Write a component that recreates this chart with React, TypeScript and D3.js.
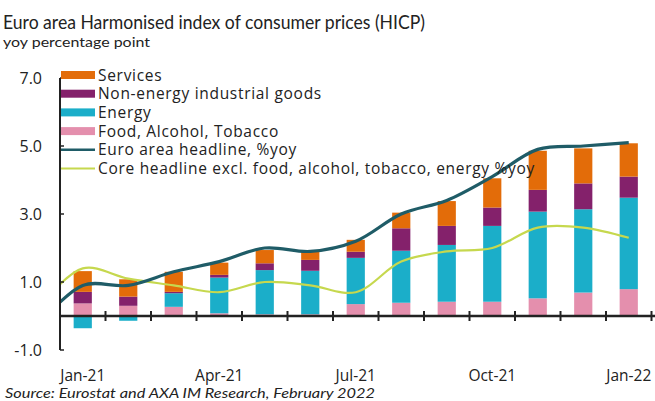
import React from "react";
import * as d3 from "d3";

const months = ["Jan-21","Feb-21","Mar-21","Apr-21","May-21","Jun-21","Jul-21","Aug-21","Sep-21","Oct-21","Nov-21","Dec-21","Jan-22"];
const tickLabels = ["Jan-21","Apr-21","Jul-21","Oct-21","Jan-22"];
const food = [0.37,0.30,0.27,0.08,0.05,0.05,0.35,0.39,0.42,0.42,0.52,0.69,0.79];
const energy = [-0.36,-0.14,0.40,1.05,1.30,1.28,1.36,1.53,1.67,2.23,2.55,2.45,2.69];
const neig = [0.34,0.27,0.04,0.08,0.20,0.32,0.18,0.66,0.56,0.54,0.64,0.76,0.62];
const services = [0.61,0.51,0.59,0.36,0.39,0.24,0.35,0.46,0.73,0.86,1.15,1.03,0.98];
// line series include Dec-20 as first point (clipped at the axis)
const lineMonths = ["Dec-20", ...months];
const headline = [-0.3,0.9,0.9,1.3,1.6,2.0,1.9,2.2,3.0,3.4,4.1,4.9,5.0,5.1];
const core = [0.2,1.4,1.1,0.9,0.7,1.0,0.9,0.7,1.6,1.9,2.0,2.6,2.6,2.3];
const yTicks = [-1,1,3,5,7];

const colors = { services: "#E36C09", neig: "#84216B", energy: "#1BAEC9", food: "#E48FAD", headline: "#1F5C67", core: "#C6D84E" };

const W = 655, H = 401;
const FONT = "Lato, 'Open Sans', sans-serif";
const FONT2 = "'Open Sans', Lato, sans-serif";

export default function App() {
  const x = d3.scaleBand<string>().domain(months).range([60, 651.5]).paddingInner(0.6).paddingOuter(0.3);
  const step = x.step();
  const cx = (m: string) => (m === "Dec-20") ? (x("Jan-21")! + x.bandwidth() / 2 - step) : x(m)! + x.bandwidth() / 2;
  const y = d3.scaleLinear().domain([-1, 7]).range([350, 78]);

  const stacks = months.map((m, i) => {
    const segs: { v0: number; v1: number; c: string }[] = [];
    let pos = 0, neg = 0;
    const add = (v: number, c: string) => {
      if (v >= 0) { segs.push({ v0: pos, v1: pos + v, c }); pos += v; }
      else { segs.push({ v0: neg + v, v1: neg, c }); neg += v; }
    };
    add(food[i], colors.food);
    add(energy[i], colors.energy);
    add(neig[i], colors.neig);
    add(services[i], colors.services);
    return { m, segs };
  });

  const lineGen = d3.line<number>()
    .x((_, i) => cx(lineMonths[i]))
    .y(d => y(d))
    .curve(d3.curveCatmullRom.alpha(0.5));

  const xTickPos = d3.range(0, months.length + 1).map(k => 60 + k * step);

  const legend = [
    { label: "Services", c: colors.services, type: "rect" },
    { label: "Non-energy industrial goods", c: colors.neig, type: "rect" },
    { label: "Energy", c: colors.energy, type: "rect" },
    { label: "Food, Alcohol, Tobacco", c: colors.food, type: "rect" },
    { label: "Euro area headline, %yoy", c: colors.headline, type: "line" },
    { label: "Core headline excl. food, alcohol, tobacco, energy %yoy", c: colors.core, type: "line" },
  ];

  return (
    <svg width={W} height={H} style={{ position: "absolute", left: 0, top: 0, background: "#fff" }} fontFamily={FONT}>
      <defs>
        <clipPath id="plotclip"><rect x={60} y={0} width={600} height={H} /></clipPath>
      </defs>
      <rect width={W} height={H} fill="#fff" />
      <text x={3} y={29} fontSize={20} fill="#222" textLength={422} lengthAdjust="spacingAndGlyphs">Euro area Harmonised index of consumer prices (HICP)</text>
      <text x={3} y={47} fontSize={14} fill="#222" textLength={147} lengthAdjust="spacingAndGlyphs">yoy percentage  point</text>

      {yTicks.map(t => (
        <text key={t} x={42} y={y(t) + 6} fontSize={16} fontFamily={FONT2} textAnchor="end" fill="#222">{t.toFixed(1)}</text>
      ))}

      {stacks.map(s => s.segs.map((g, j) => (
        <rect key={s.m + j} x={x(s.m)} width={x.bandwidth()} y={y(g.v1)} height={Math.max(0, y(g.v0) - y(g.v1))} fill={g.c} />
      )))}

      <g clipPath="url(#plotclip)">
        <path d={lineGen(core)!} fill="none" stroke={colors.core} strokeWidth={2.2} />
        <path d={lineGen(headline)!} fill="none" stroke={colors.headline} strokeWidth={3.2} />
      </g>

      <line x1={60} x2={60} y1={y(7)} y2={y(-1)} stroke="#222" strokeWidth={2} />
      {yTicks.map(t => (
        <line key={"yt" + t} x1={60} x2={64} y1={y(t)} y2={y(t)} stroke="#222" strokeWidth={1.5} />
      ))}
      <line x1={60} x2={655} y1={y(0)} y2={y(0)} stroke="#222" strokeWidth={2.5} />
      {xTickPos.map((p, k) => (
        <line key={"xt" + k} x1={p} x2={p} y1={y(0) - 5} y2={y(0) + 5} stroke="#222" strokeWidth={2} />
      ))}
      {tickLabels.map(l => (
        <text key={l} x={cx(l)} y={381} fontSize={15.5} fontFamily={FONT2} textAnchor="middle" fill="#222">{l}</text>
      ))}

      {legend.map((e, i) => {
        const ly = 75 + i * 18.7;
        return (
          <g key={e.label}>
            {e.type === "rect"
              ? <rect x={61} y={ly - 4} width={34} height={8} fill={e.c} />
              : <line x1={61} x2={95} y1={ly} y2={ly} stroke={e.c} strokeWidth={e.c === colors.headline ? 2.5 : 2} />}
            <text x={98} y={ly + 5.5} fontSize={15.5} fontFamily={FONT2} letterSpacing={0.7} fill="#222">{e.label}</text>
          </g>
        );
      })}

      <text x={5} y={398} fontSize={14} fontStyle="italic" fill="#222" textLength={370} lengthAdjust="spacingAndGlyphs">Source: Eurostat and AXA IM Research, February 2022</text>
    </svg>
  );
}
